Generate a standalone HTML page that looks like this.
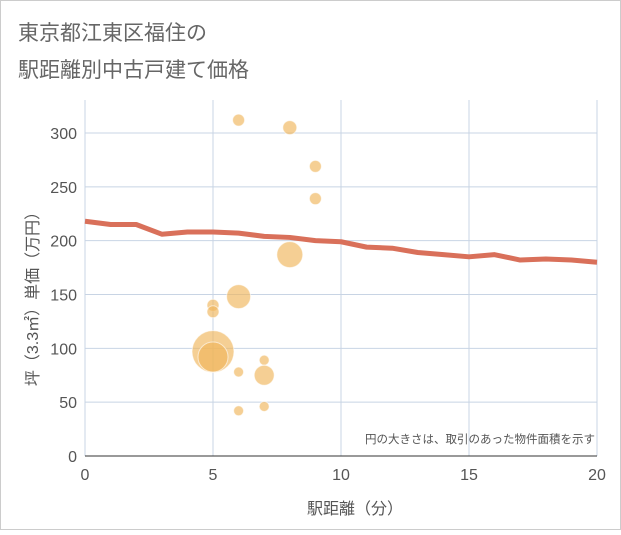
<!DOCTYPE html>
<html><head><meta charset="utf-8"><style>
body{margin:0;background:#fff;}
svg text{font-family:"Liberation Sans","Noto Sans CJK JP",sans-serif;}
</style></head><body>
<svg width="621" height="530">
<rect x="0.5" y="0.5" width="620" height="529" fill="#fff" stroke="#ccc"/>
<text x="18" y="40" font-size="21" fill="#666">東京都江東区福住の</text>
<text x="18" y="77" font-size="21" fill="#666">駅距離別中古戸建て価格</text>
<g id="grid"></g><g id="bubbles"></g><g id="line"></g><g id="axes"></g>
<text x="595" y="443" font-size="11.5" fill="#555" text-anchor="end">円の大きさは、取引のあった物件面積を示す</text>
<text x="355" y="514" font-size="16" fill="#555" text-anchor="middle">駅距離（分）</text>
<text transform="translate(38,295) rotate(-90)" font-size="16" fill="#555" text-anchor="middle">坪（3.3㎡）単価（万円）</text>
</svg>
<script>
const xTicks=[0,5,10,15,20];
const yTicks=[0,50,100,150,200,250,300];
const lineX=[0,1,2,3,4,5,6,7,8,9,10,11,12,13,14,15,16,17,18,19,20];
const lineY=[218,215,215,206,208,208,207,204,203,200,199,194,193,189,187,185,187,182,183,182,180];
const bubX=[6,8,9,9,8,6,5,5,5,5,7,6,7,6,7];
const bubY=[312,305,269,239,187,148,140,134,97,92,89,78,75,42,46];
const bubR=[6,7,6,6,13,12,6,6,21,15,5,5,10,5,5];
const NS='http://www.w3.org/2000/svg';
const X0=85,X1=597,Y0=456,Y1=133;
const sx=v=>X0+(X1-X0)*v/20, sy=v=>Y0-(Y0-Y1)*v/300;
function mk(p,t,a){const e=document.createElementNS(NS,t);for(const k in a)e.setAttribute(k,a[k]);p.appendChild(e);return e;}
const g=document.getElementById('grid'),ax=document.getElementById('axes');
xTicks.forEach(t=>{const l=mk(g,'line',{x1:sx(t),x2:sx(t),y1:100,y2:Y0,stroke:'#c8d4e4','stroke-width':1});

const tx=mk(ax,'text',{x:sx(t),y:480,'font-size':16,fill:'#555','text-anchor':'middle'});tx.textContent=t;
});
yTicks.forEach(t=>{const l=mk(g,'line',{x1:X0,x2:X1,y1:sy(t),y2:sy(t),stroke:'#c8d4e4','stroke-width':1});

const tx=mk(ax,'text',{x:77,y:sy(t)+6,'font-size':16,fill:'#555','text-anchor':'end'});tx.textContent=t;
});
const xa=mk(ax,'line',{x1:X0,x2:X1,y1:Y0,y2:Y0,stroke:'#333','stroke-width':1});

const b=document.getElementById('bubbles');
bubX.forEach((v,i)=>{const c=mk(b,'circle',{cx:sx(v),cy:sy(bubY[i]),r:bubR[i],fill:'rgba(240,182,90,0.65)',stroke:'rgba(255,255,255,0.6)','stroke-width':1});
});
const p=mk(document.getElementById('line'),'polyline',{points:lineX.map((v,i)=>sx(v)+','+sy(lineY[i])).join(' '),fill:'none',stroke:'#d9705a','stroke-width':5,'stroke-linejoin':'round'});

</script>
</body></html>
